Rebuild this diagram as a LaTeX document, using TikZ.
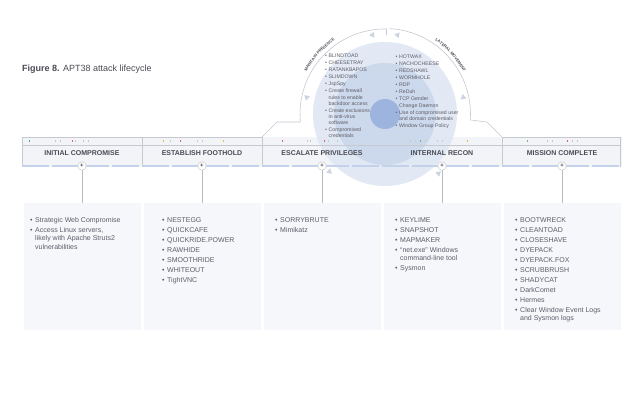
\documentclass[tikz,border=0pt]{standalone}
\usepackage{fontspec}
\setmainfont{Liberation Sans}
\usetikzlibrary{positioning, shapes.geometric, decorations.text}
\definecolor{txtgray}{HTML}{5E5E68}
\definecolor{hdrgray}{HTML}{4B4B55}
\definecolor{linegray}{HTML}{C6C9D0}
\definecolor{panelfill}{HTML}{F5F7FB}
\definecolor{hdrfill}{HTML}{F2F4F8}
\definecolor{ringout}{HTML}{DFE7F3}
\definecolor{ringmid}{HTML}{CAD7EB}
\definecolor{ringin}{HTML}{9CB4DE}
\definecolor{barblue}{HTML}{C3D2EA}
\definecolor{tickteal}{HTML}{3A9FB5}
\definecolor{tickred}{HTML}{D9655B}
\definecolor{tickyel}{HTML}{E2C04A}
\definecolor{tickgrn}{HTML}{7FB56A}
\def\itm{\makebox[5pt][l]{\textbullet}}
\def\ind{\hspace*{5pt}}
\def\citm{\makebox[3.5pt][l]{\textbullet}}
\def\cind{\hspace*{3.5pt}}

\begin{document}
\begin{tikzpicture}[x=1pt, y=1pt]
    \tikzstyle{panel}=[rectangle, fill=panelfill, minimum width=117pt, minimum height=127pt, inner sep=0pt]
    \tikzstyle{header back}=[rectangle, fill=hdrfill, minimum width=120pt, minimum height=30pt, inner sep=0pt]
    \tikzstyle{header}=[font=\fontsize{7}{7}\selectfont\bfseries, text=hdrgray]
    \tikzstyle{plus node}=[circle, fill=white, draw=linegray, line width=0.5pt, minimum size=8.5pt, inner sep=0pt, font=\fontsize{6}{6}\selectfont\bfseries, text=hdrgray]
    \tikzstyle{list}=[anchor=north west, align=left, inner sep=0pt, text=txtgray, font=\fontsize{7}{8.5}\selectfont]
    \tikzstyle{clist}=[anchor=north west, align=left, inner sep=0pt, text=txtgray, font=\fontsize{5.2}{6.2}\selectfont]
    \tikzstyle{tri}=[isosceles triangle, isosceles triangle apex angle=60, fill=ringmid!85!gray!80, minimum size=5pt, inner sep=0pt]
    \useasboundingbox (0,0) rectangle (640,403);
    \fill[white] (0,0) rectangle (640,403);

    % Title
    \node[anchor=base west, inner sep=0pt, text=hdrgray, font=\fontsize{9}{9}\selectfont] (title) at (22,331) {\textbf{Figure 8.} APT38 attack lifecycle};

    % Draw the header backgrounds and the panels
    \foreach \i / \x in {1/82, 2/202, 3/322, 4/442, 5/562} {
        \node[header back] (HB-\i) at (\x,251) {};
        \node[panel] (B-\i) at (\x,136.5) {};
    }

    % Draw the circle
    \coordinate (C) at (385,289);
    \fill[ringout, opacity=0.9] (C) circle (72);
    \fill[ringmid, opacity=0.9] (C) circle (51);
    \fill[ringin] (C) circle (15);

    % Outer ring with its connectors
    \draw[linegray, line width=0.6pt] (C) ++(185.4:85) arc (185.4:89:85) coordinate (ringtop) -- ++(0,-6);
    \draw[linegray, line width=0.6pt] (C) ++(87:85.5) arc (87:-4:85.5) coordinate (ringright);
    \path (C) ++(185.4:85) coordinate (ringleft);
    \coordinate (kneeL) at (277,281);
    \coordinate (kneeR) at (487,281);
    \draw[linegray, line width=0.6pt] (ringleft) -- (kneeL) -- (262,266);
    \draw[linegray, line width=0.6pt] (ringright) -- (kneeR) -- (502,266);

    % Arrows round the cycle
    \begin{scope}[shift={(385,289)}]
        \foreach \a in {99, 81, 168, 12, 226, 312}
            \node[tri, rotate=\a+90] (T-\a) at (\a:80) {};
        \path[decorate, decoration={text along path, text align=center,
            text={|\fontsize{4}{4}\selectfont\bfseries\color{hdrgray}|MAINTAIN PRESENCE}}]
            (157:89) arc (157:119:89);
        \path[decorate, decoration={text along path, text align=center,
            text={|\fontsize{4}{4}\selectfont\bfseries\color{hdrgray}|LATERAL MOVEMENT}}]
            (61:89) arc (61:23:89);
    \end{scope}

    % Header lines
    \draw[linegray, line width=0.5pt] (22,266) -- (262,266);
    \draw[linegray, line width=0.5pt] (502,266) -- (620,266);
    \draw[linegray, line width=0.5pt] (22,258) -- (620,258);
    \foreach \x in {22, 142, 262, 502, 620}
        \draw[linegray, line width=0.5pt] (\x,266) -- (\x,236);
    \draw[barblue, line width=2pt, dash pattern=on 27pt off 3pt] (22,237) -- (620,237);

    % Coloured marks in the header band
    \foreach \x / \c in {29/tickteal, 55/linegray, 60/linegray, 72/tickred, 75/linegray, 83/linegray, 88/linegray,
        163/tickyel, 170/linegray, 180/tickred, 197/linegray, 202/linegray, 223/tickyel,
        282/tickred, 307/linegray, 310/linegray, 324/tickred, 328/linegray, 337/linegray,
        410/linegray, 415/linegray, 420/tickgrn, 425/linegray, 437/linegray, 442/linegray, 467/tickyel,
        527/tickgrn, 547/linegray, 552/linegray, 567/tickred, 572/linegray, 577/linegray}
        \fill[\c] (\x,260.5) rectangle ++(1.4,2.6);

    % Header labels, plus markers and their lines
    \foreach \i / \x / \t in {1/82/INITIAL COMPROMISE, 2/202/ESTABLISH FOOTHOLD, 3/322/ESCALATE PRIVILEGES,
        4/442/INTERNAL RECON, 5/562/MISSION COMPLETE} {
        \node[header] (H-\i) at (\x,250) {\t};
        \node[plus node] (P-\i) at (\x,237) {+};
        \draw[linegray!80!gray, line width=0.5pt] (P-\i) -- (B-\i.north);
    }

    % Lists in the circle
    \node[clist] (CL-1) at (325,349) {\citm BLINDTOAD\\[0.8pt] \citm CHEESETRAY\\[0.8pt] \citm RATANKBAPOS\\[0.8pt]
        \citm SLIMDOWN\\[0.8pt] \citm JspSpy\\[0.8pt] \citm Create firewall\\ \cind rules to enable\\ \cind backdoor access\\[0.8pt]
        \citm Create exclusions\\ \cind in anti-virus\\ \cind software\\[0.8pt] \citm Compromised\\ \cind credentials};
    \node[clist] (CL-2) at (395.5,348) {\citm HOTWAX\\[0.8pt] \citm NACHOCHEESE\\[0.8pt] \citm REDSHAWL\\[0.8pt]
        \citm WORMHOLE\\[0.8pt] \citm RDP\\[0.8pt] \citm ReDuh\\[0.8pt] \citm TCP Gender\\ \cind Change Daemon\\[0.8pt]
        \citm Use of compromised user\\ \cind and domain credentials\\[0.8pt] \citm Window Group Policy};

    % Lists in the panels
    \node[list] (L-1) at (30,186) {\itm Strategic Web Compromise\\[1.5pt] \itm Access Linux servers,\\
        \ind likely with Apache Struts2\\ \ind vulnerabilities};
    \node[list] (L-2) at (162,186) {\itm NESTEGG\\[1.5pt] \itm QUICKCAFE\\[1.5pt] \itm QUICKRIDE.POWER\\[1.5pt]
        \itm RAWHIDE\\[1.5pt] \itm SMOOTHRIDE\\[1.5pt] \itm WHITEOUT\\[1.5pt] \itm TightVNC};
    \node[list] (L-3) at (275,186) {\itm SORRYBRUTE\\[1.5pt] \itm Mimikatz};
    \node[list] (L-4) at (395,186) {\itm KEYLIME\\[1.5pt] \itm SNAPSHOT\\[1.5pt] \itm MAPMAKER\\[1.5pt]
        \itm ``net.exe'' Windows\\ \ind command-line tool\\[1.5pt] \itm Sysmon};
    \node[list] (L-5) at (515,186) {\itm BOOTWRECK\\[1.5pt] \itm CLEANTOAD\\[1.5pt] \itm CLOSESHAVE\\[1.5pt]
        \itm DYEPACK\\[1.5pt] \itm DYEPACK.FOX\\[1.5pt] \itm SCRUBBRUSH\\[1.5pt] \itm SHADYCAT\\[1.5pt]
        \itm DarkComet\\[1.5pt] \itm Hermes\\[1.5pt] \itm Clear Window Event Logs\\ \ind and Sysmon logs};
\end{tikzpicture}
\end{document}
